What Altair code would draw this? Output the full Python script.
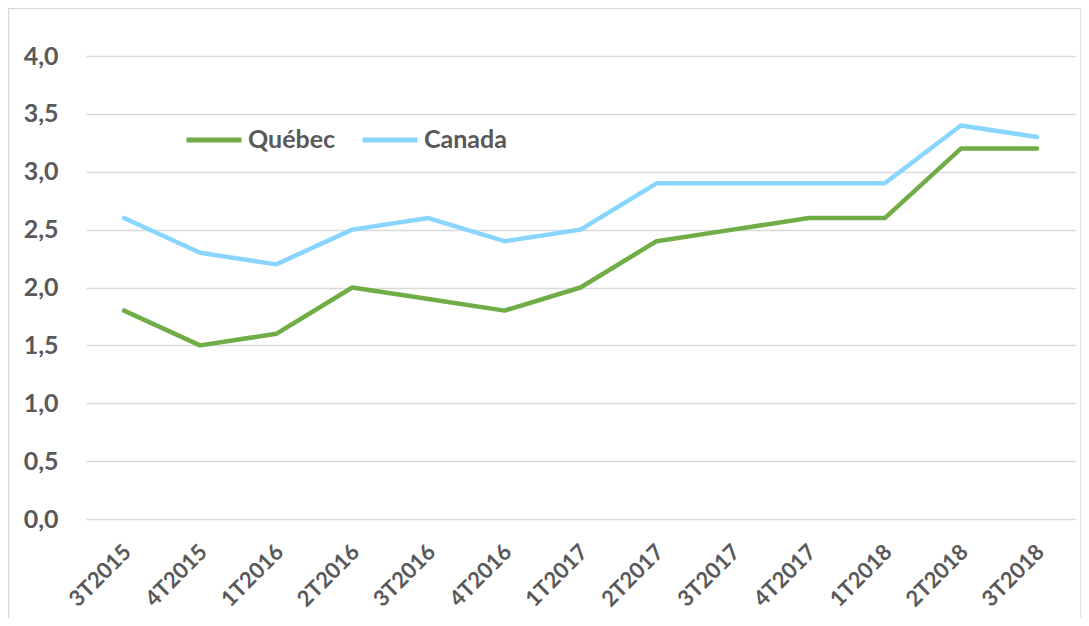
import altair as alt
import pandas as pd

quarters = ["3T2015", "4T2015", "1T2016", "2T2016", "3T2016", "4T2016", "1T2017",
            "2T2017", "3T2017", "4T2017", "1T2018", "2T2018", "3T2018"]
quebec = [1.8, 1.5, 1.6, 2.0, 1.9, 1.8, 2.0, 2.4, 2.5, 2.6, 2.6, 3.2, 3.2]
canada = [2.6, 2.3, 2.2, 2.5, 2.6, 2.4, 2.5, 2.9, 2.9, 2.9, 2.9, 3.4, 3.3]
series_names = ["Québec", "Canada"]
y_ticks = [0, 0.5, 1.0, 1.5, 2.0, 2.5, 3.0, 3.5, 4.0]

rows = []
for name, vals in zip(series_names, [quebec, canada]):
    for i, (q, v) in enumerate(zip(quarters, vals)):
        rows.append({"Trimestre": q, "Série": name, "Valeur": v, "ordre": i})
df = pd.DataFrame(rows)

FONT = "Lato"
TXT = "#595959"
FS = 25
W, H = 989, 463

lines = alt.Chart(df).mark_line(strokeWidth=4.5, strokeCap="round", strokeJoin="round").encode(
    x=alt.X("Trimestre:N", sort=quarters, title=None,
            scale=alt.Scale(type="point", padding=0.5),
            axis=alt.Axis(labelAngle=-45, labelFont=FONT, labelFontSize=22, labelFontWeight="bold",
                          labelColor=TXT, domain=False, ticks=False, grid=False, labelPadding=22,
                          labelOffset=-4)),
    y=alt.Y("Valeur:Q", title=None, scale=alt.Scale(domain=[0, 4]),
            axis=alt.Axis(values=y_ticks, format=".1f", labelExpr="replace(format(datum.value, '.1f'), '.', ',')",
                          labelFont=FONT, labelFontSize=FS, labelFontWeight="bold", labelColor=TXT,
                          domain=False, ticks=False, gridColor="#D9D9D9", gridWidth=1.5, labelPadding=28)),
    color=alt.Color("Série:N", sort=series_names,
                    scale=alt.Scale(domain=series_names, range=["#70AD47", "#88D6FF"]),
                    legend=alt.Legend(title=None, orient="none", legendX=98, legendY=54, direction="horizontal",
                                      symbolType="stroke", symbolSize=3025, symbolStrokeWidth=5,
                                      labelFont=FONT, labelFontSize=FS, labelFontWeight="bold", labelColor=TXT,
                                      labelOffset=4, columnPadding=16)),
    order="ordre:Q",
)

border = alt.Chart(alt.Data(values=[{}])).mark_rect(fill=None, stroke="#D9D9D9", strokeWidth=1.5).encode(
    x=alt.value(-77.5), x2=alt.value(W + 6), y=alt.value(-47.5), y2=alt.value(H + 120)
)

chart = alt.layer(border, lines).properties(
    width=W, height=H,
    autosize=alt.AutoSizeParams(type="none"),
    padding={"left": 78, "top": 48, "right": 6, "bottom": 99},
).configure_view(stroke=None)

chart.save("out.html", embed_options={"renderer": "svg", "actions": False})
